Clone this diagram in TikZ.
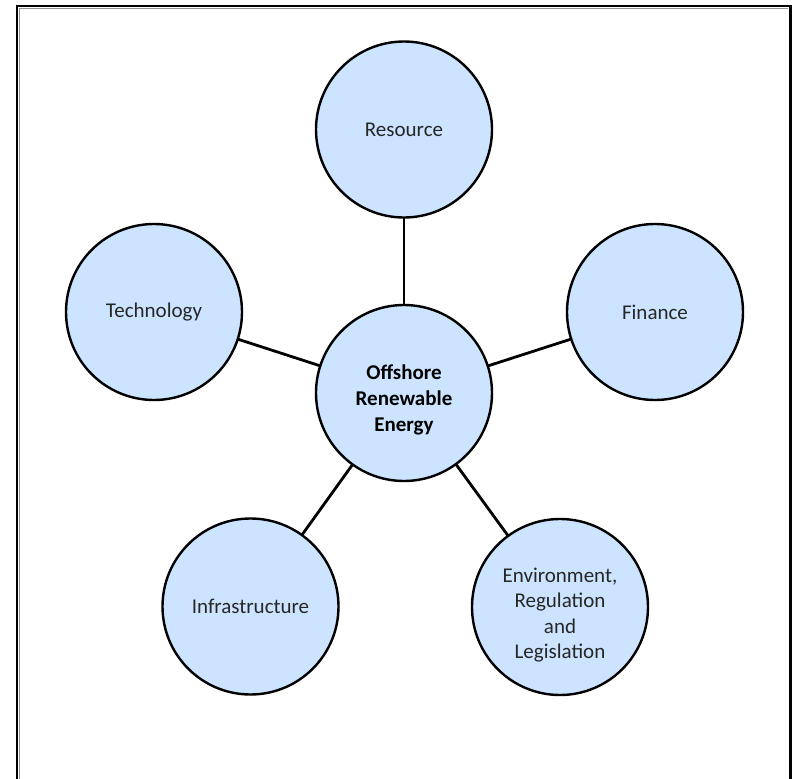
\documentclass[tikz,border=0pt]{standalone}
\usepackage{fontspec}
\setmainfont{Carlito}
\definecolor{bubble}{RGB}{204,228,255}
\definecolor{frameshade}{RGB}{150,150,150}
\begin{document}
\begin{tikzpicture}[x=1pt,y=-1pt,
  bubble/.style={circle,draw=black,line width=2.4pt,fill=bubble,minimum size=176pt,inner sep=0pt,
    font=\fontsize{21}{26}\selectfont,text=black!85,align=center},
  link/.style={line width=2.8pt,black}]
\useasboundingbox (0,0) rectangle (796,779);
% frame (bottom edge lies outside the picture)
\draw[line width=2.2pt] (17,790) -- (17,6) -- (790.5,6) -- (790.5,790);
\draw[frameshade,line width=0.9pt] (19,790) -- (19,8) -- (788.4,8);
% links first
\coordinate (cC) at (404,393);
\coordinate (cR) at (404,129.5);
\coordinate (cT) at (154,312);
\coordinate (cF) at (655,312);
\coordinate (cI) at (250.5,606.5);
\coordinate (cE) at (560,607);
\draw[link] (cC) -- (cR);
\draw[link] (cC) -- (cT);
\draw[link] (cC) -- (cF);
\draw[link] (cC) -- (cI);
\draw[link] (cC) -- (cE);
% bubbles
\node[bubble] (R) at (cR) {Resource};
\node[bubble] (T) at (cT) {Technology};
\node[bubble] (F) at (cF) {Finance};
\node[bubble] (I) at (cI) {Infrastructure};
\node[bubble] (E) at (cE) {};
\node[bubble] (C) at (cC) {};
\node[font=\fontsize{21}{26}\selectfont\bfseries,align=center,text=black] (Ct) at (404,400) {Offshore\\Renewable\\Energy};
\node[font=\fontsize{21}{25.5}\selectfont,align=center,text=black!85] (Et) at (560,615) {Environment,\\Regulation\\and\\Legislation};
\end{tikzpicture}
\end{document}
